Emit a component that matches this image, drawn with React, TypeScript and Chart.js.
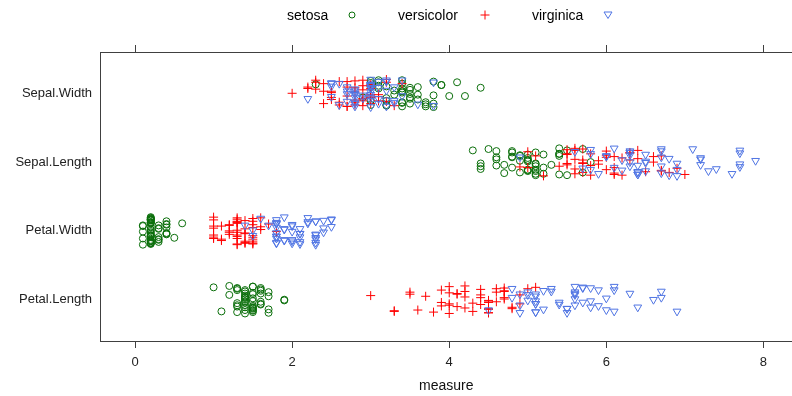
import { useEffect, useRef } from "react";
import { Chart, registerables } from "chart.js";

Chart.register(...registerables);

// measures from bottom (y=1) to top (y=4)
const MEASURES = ["Petal.Length", "Petal.Width", "Sepal.Length", "Sepal.Width"];
const SPECIES = ["setosa", "versicolor", "virginica"];
const X_TICKS = [0, 2, 4, 6, 8];

const setosaSepalLength = [5.1,4.9,4.7,4.6,5.0,5.4,4.6,5.0,4.4,4.9,5.4,4.8,4.8,4.3,5.8,5.7,5.4,5.1,5.7,5.1,5.4,5.1,4.6,5.1,4.8,5.0,5.0,5.2,5.2,4.7,4.8,5.4,5.2,5.5,4.9,5.0,5.5,4.9,4.4,5.1,5.0,4.5,4.4,5.0,5.1,4.8,5.1,4.6,5.3,5.0];
const setosaSepalWidth = [3.5,3.0,3.2,3.1,3.6,3.9,3.4,3.4,2.9,3.1,3.7,3.4,3.0,3.0,4.0,4.4,3.9,3.5,3.8,3.8,3.4,3.7,3.6,3.3,3.4,3.0,3.4,3.5,3.4,3.2,3.1,3.4,4.1,4.2,3.1,3.2,3.5,3.6,3.0,3.4,3.5,2.3,3.2,3.5,3.8,3.0,3.8,3.2,3.7,3.3];
const setosaPetalLength = [1.4,1.4,1.3,1.5,1.4,1.7,1.4,1.5,1.4,1.5,1.5,1.6,1.4,1.1,1.2,1.5,1.3,1.4,1.7,1.5,1.7,1.5,1.0,1.7,1.9,1.6,1.6,1.5,1.4,1.6,1.6,1.5,1.5,1.4,1.5,1.2,1.3,1.4,1.3,1.5,1.3,1.3,1.3,1.6,1.9,1.4,1.6,1.4,1.5,1.4];
const setosaPetalWidth = [0.2,0.2,0.2,0.2,0.2,0.4,0.3,0.2,0.2,0.1,0.2,0.2,0.1,0.1,0.2,0.4,0.4,0.3,0.3,0.3,0.2,0.4,0.2,0.5,0.2,0.2,0.4,0.2,0.2,0.2,0.2,0.4,0.1,0.2,0.2,0.2,0.2,0.1,0.2,0.2,0.3,0.3,0.2,0.6,0.4,0.3,0.2,0.2,0.2,0.2];

const versicolorSepalLength = [7.0,6.4,6.9,5.5,6.5,5.7,6.3,4.9,6.6,5.2,5.0,5.9,6.0,6.1,5.6,6.7,5.6,5.8,6.2,5.6,5.9,6.1,6.3,6.1,6.4,6.6,6.8,6.7,6.0,5.7,5.5,5.5,5.8,6.0,5.4,6.0,6.7,6.3,5.6,5.5,5.5,6.1,5.8,5.0,5.6,5.7,5.7,6.2,5.1,5.7];
const versicolorSepalWidth = [3.2,3.2,3.1,2.3,2.8,2.8,3.3,2.4,2.9,2.7,2.0,3.0,2.2,2.9,2.9,3.1,3.0,2.7,2.2,2.5,3.2,2.8,2.5,2.8,2.9,3.0,2.8,3.0,2.9,2.6,2.4,2.4,2.7,2.7,3.0,3.4,3.1,2.3,3.0,2.5,2.6,3.0,2.6,2.3,2.7,3.0,2.9,2.9,2.5,2.8];
const versicolorPetalLength = [4.7,4.5,4.9,4.0,4.6,4.5,4.7,3.3,4.6,3.9,3.5,4.2,4.0,4.7,3.6,4.4,4.5,4.1,4.5,3.9,4.8,4.0,4.9,4.7,4.3,4.4,4.8,5.0,4.5,3.5,3.8,3.7,3.9,5.1,4.5,4.5,4.7,4.4,4.1,4.0,4.4,4.6,4.0,3.3,4.2,4.2,4.2,4.3,3.0,4.1];
const versicolorPetalWidth = [1.4,1.5,1.5,1.3,1.5,1.3,1.6,1.0,1.3,1.4,1.0,1.5,1.0,1.4,1.3,1.4,1.5,1.0,1.5,1.1,1.8,1.3,1.5,1.2,1.3,1.4,1.4,1.7,1.5,1.0,1.1,1.0,1.2,1.6,1.5,1.6,1.5,1.3,1.3,1.3,1.2,1.4,1.2,1.0,1.3,1.2,1.3,1.3,1.1,1.3];

const virginicaSepalLength = [6.3,5.8,7.1,6.3,6.5,7.6,4.9,7.3,6.7,7.2,6.5,6.4,6.8,5.7,5.8,6.4,6.5,7.7,7.7,6.0,6.9,5.6,7.7,6.3,6.7,7.2,6.2,6.1,6.4,7.2,7.4,7.9,6.4,6.3,6.1,7.7,6.3,6.4,6.0,6.9,6.7,6.9,5.8,6.8,6.7,6.7,6.3,6.5,6.2,5.9];
const virginicaSepalWidth = [3.3,2.7,3.0,2.9,3.0,3.0,2.5,2.9,2.5,3.6,3.2,2.7,3.0,2.5,2.8,3.2,3.0,3.8,2.6,2.2,3.2,2.8,2.8,2.7,3.3,3.2,2.8,3.0,2.8,3.0,2.8,3.8,2.8,2.8,2.6,3.0,3.4,3.1,3.0,3.1,3.1,3.1,2.7,3.2,3.3,3.0,2.5,3.0,3.4,3.0];
const virginicaPetalLength = [6.0,5.1,5.9,5.6,5.8,6.6,4.5,6.3,5.8,6.1,5.1,5.3,5.5,5.0,5.1,5.3,5.5,6.7,6.9,5.0,5.7,4.9,6.7,4.9,5.7,6.0,4.8,4.9,5.6,5.8,6.1,6.4,5.6,5.1,5.6,6.1,5.6,5.5,4.8,5.4,5.6,5.1,5.1,5.9,5.7,5.2,5.0,5.2,5.4,5.1];
const virginicaPetalWidth = [2.5,1.9,2.1,1.8,2.2,2.1,1.7,1.8,1.8,2.5,2.0,1.9,2.1,2.0,2.4,2.3,1.8,2.2,2.3,1.5,2.3,2.0,2.0,1.8,2.1,1.8,1.8,1.8,2.1,1.6,1.9,2.0,2.2,1.5,1.4,2.3,2.4,1.8,1.8,2.1,2.4,2.3,1.9,2.3,2.5,2.3,1.9,2.0,2.3,1.8];

// fixed vertical jitter offsets (strip-plot jitter), in category units
const JITTER = [0.12,-0.08,0.17,-0.15,0.03,-0.19,0.09,-0.02,0.14,-0.11,0.19,-0.06,0.01,-0.17,0.07,-0.13,0.16,-0.04,0.11,-0.18,0.05,-0.09,0.18,-0.14,-0.01,0.13,-0.07,0.08,-0.2,0.15,-0.03,0.1,-0.16,0.04,-0.12,0.2,-0.05,0.06,-0.1,0.02,-0.18,0.14,-0.08,0.17,0.0,-0.15,0.09,-0.11,0.19,-0.02,0.12,-0.19,0.07,-0.06,0.16,-0.13,0.03,-0.17,0.11,-0.04,0.08];

const SPECIES_DATA = [
  [setosaPetalLength, setosaPetalWidth, setosaSepalLength, setosaSepalWidth],
  [versicolorPetalLength, versicolorPetalWidth, versicolorSepalLength, versicolorSepalWidth],
  [virginicaPetalLength, virginicaPetalWidth, virginicaSepalLength, virginicaSepalWidth],
];

const COLORS = ["#0a6e0a", "#ff0000", "#4f74e3"];
const FONT = "'Liberation Sans', Arial, Helvetica, sans-serif";

function buildPoints(s: number) {
  const pts: { x: number; y: number }[] = [];
  SPECIES_DATA[s].forEach((vals, k) => {
    vals.forEach((v, i) => {
      pts.push({ x: v, y: k + 1 + JITTER[(i + 50 * s + 15 * k) % JITTER.length] });
    });
  });
  return pts;
}

const legendPlugin = {
  id: "latticeKey",
  afterDraw(chart: any) {
    const ctx = chart.ctx;
    ctx.save();
    ctx.font = `14px ${FONT}`;
    ctx.textBaseline = "middle";
    ctx.textAlign = "left";
    const y = 16;
    const items = [
      { text: SPECIES[0], tx: 287, sx: 352 },
      { text: SPECIES[1], tx: 398, sx: 485 },
      { text: SPECIES[2], tx: 532, sx: 608 },
    ];
    items.forEach((it, idx) => {
      ctx.fillStyle = "#000";
      ctx.fillText(it.text, it.tx, y);
      ctx.strokeStyle = COLORS[idx];
      ctx.lineWidth = 1;
      ctx.beginPath();
      if (idx === 0) {
        ctx.arc(it.sx, y - 1, 3, 0, Math.PI * 2);
      } else if (idx === 1) {
        ctx.moveTo(it.sx - 4.5, y - 1);
        ctx.lineTo(it.sx + 4.5, y - 1);
        ctx.moveTo(it.sx, y - 5.5);
        ctx.lineTo(it.sx, y + 3.5);
      } else {
        ctx.moveTo(it.sx - 4, y - 4);
        ctx.lineTo(it.sx + 4, y - 4);
        ctx.lineTo(it.sx, y + 2.5);
        ctx.closePath();
      }
      ctx.stroke();
    });
    ctx.restore();
  },
};

export default function App() {
  const ref = useRef<HTMLCanvasElement | null>(null);

  useEffect(() => {
    if (!ref.current) return;
    const styles = [
      { pointStyle: "circle", radius: 3.5, rotation: 0 },
      { pointStyle: "cross", radius: 4.5, rotation: 0 },
      { pointStyle: "triangle", radius: 4.5, rotation: 180 },
    ];
    // draw order: setosa first, virginica last (on top)
    const datasets = [2, 1, 0].map((s) => ({
      label: SPECIES[s],
      data: buildPoints(s),
      pointStyle: styles[s].pointStyle,
      pointRadius: styles[s].radius,
      pointRotation: styles[s].rotation,
      pointBorderColor: COLORS[s],
      borderColor: COLORS[s],
      pointBackgroundColor: "rgba(0,0,0,0)",
      backgroundColor: "rgba(0,0,0,0)",
      pointBorderWidth: 1,
      showLine: false,
    }));

    const setXTicks = (scale: any) => {
      scale.ticks = X_TICKS.map((v) => ({ value: v }));
    };
    const fitX = (h: number) => (s: any) => {
      s.height = h;
    };

    const chart = new Chart(ref.current, {
      type: "scatter",
      data: { datasets },
      options: {
        animation: false,
        responsive: false,
        devicePixelRatio: 1,
        events: [],
        layout: { padding: 0 },
        plugins: { legend: { display: false }, tooltip: { enabled: false } },
        scales: {
          x: {
            type: "linear",
            position: "bottom",
            min: -0.446,
            max: 8.37,
            afterBuildTicks: setXTicks,
            afterFit: fitX(55),
            grid: { drawOnChartArea: false, drawTicks: true, tickLength: 7, tickColor: "#404040" },
            border: { display: true, color: "#404040", width: 1 },
            ticks: { color: "#222", font: { family: FONT, size: 13 }, padding: 7, maxRotation: 0 },
            title: { display: true, text: "measure", color: "#111", font: { family: FONT, size: 14 }, padding: { top: 0, bottom: 1 } },
          },
          x2: {
            type: "linear",
            position: "top",
            min: -0.446,
            max: 8.37,
            afterBuildTicks: setXTicks,
            afterFit: fitX(52),
            grid: { drawOnChartArea: false, drawTicks: true, tickLength: 7, tickColor: "#404040" },
            border: { display: true, color: "#404040", width: 1 },
            ticks: { color: "rgba(0,0,0,0)", font: { family: FONT, size: 13 }, padding: 0 },
          },
          y: {
            type: "linear",
            position: "left",
            min: 0.4,
            max: 4.6,
            afterBuildTicks: (scale: any) => {
              scale.ticks = MEASURES.map((_, i) => ({ value: i + 1 }));
            },
            afterFit: (s: any) => {
              s.width = 100;
              s.paddingTop = 0;
              s.paddingBottom = 0;
            },
            grid: { drawOnChartArea: false, drawTicks: false },
            border: { display: true, color: "#404040", width: 1 },
            ticks: {
              color: "#222",
              font: { family: FONT, size: 13 },
              padding: 8,
              callback: (v: any) => MEASURES[Math.round(Number(v)) - 1] ?? "",
            },
          },
        },
      },
      plugins: [legendPlugin],
    } as any);
    return () => chart.destroy();
  }, []);

  return (
    <div style={{ position: "fixed", left: 0, top: 0, width: 792, height: 396, background: "#fff", overflow: "hidden" }}>
      <canvas ref={ref} width={798} height={396} style={{ display: "block" }} />
    </div>
  );
}
